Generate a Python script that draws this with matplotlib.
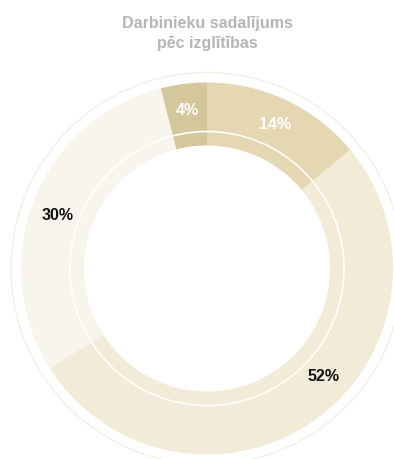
import matplotlib.pyplot as plt
import numpy as np
from matplotlib.patches import Circle

# education split of employees, clockwise from the top
labels = ['14%', '52%', '30%', '4%']
shares = [14, 52, 30, 4]
colors = ['#e4d7b1', '#f2ebd8', '#f8f5ed', '#d5c79c']
text_colors = ['white', '#111111', '#111111', 'white']
title = 'Darbinieku sadalījums\npēc izglītības'

W, H = 394, 459
fig = plt.figure(figsize=(W / 100, H / 100), dpi=100)
ax = fig.add_axes([0, 0, 1, 1])

# pixel-like coordinates, y measured upwards from the bottom edge
cx, cy = 207, H - 268.5
R, ring = 186, 63

ax.pie(shares, colors=colors, startangle=90, counterclock=False,
       radius=R, center=(cx, cy), frame=True,
       wedgeprops=dict(width=ring, linewidth=0))
ax.set_xlim(0, W)
ax.set_ylim(0, H)
ax.set_aspect('equal')
ax.axis('off')

# faint outer outline and thin white inner line
ax.add_patch(Circle((cx, cy), 196, fill=False, ec='#f4f0e4', lw=1.0))
ax.add_patch(Circle((cx, cy), 137, fill=False, ec='white', lw=1.2))

# percentage labels on the ring, nudged a little along the arc
nudge = [0, 11, 2, 0]
start = 90.0
for lab, v, tc, dn in zip(labels, shares, text_colors, nudge):
    mid = np.deg2rad(start - v * 360 / 100 / 2 + dn)
    start -= v * 360 / 100
    r = 159
    ax.text(cx + r * np.cos(mid), cy + r * np.sin(mid), lab, color=tc,
            fontsize=11.5, fontweight='bold', ha='center', va='center',
            family='Liberation Sans')

ax.text(cx, H - 33.5, title, color='#b5b5b5', fontsize=11.5, fontweight='bold',
        ha='center', va='center', linespacing=1.4, family='Liberation Sans')

fig.savefig('out.png', dpi=100)
